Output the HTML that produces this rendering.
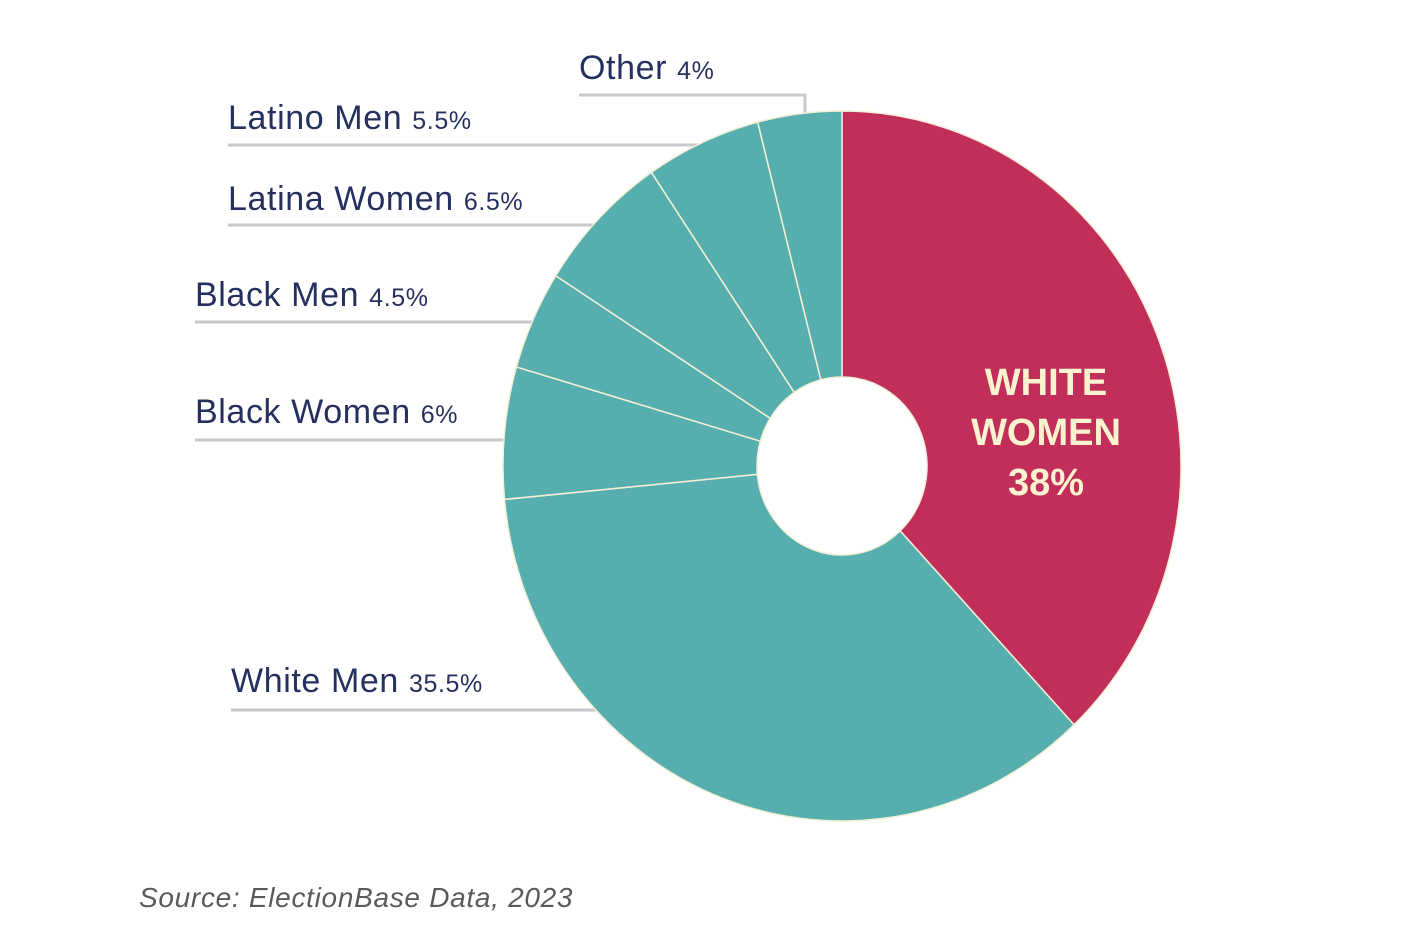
<!DOCTYPE html>
<html><head><meta charset="utf-8"><style>
html,body{margin:0;padding:0;background:#fff;width:1410px;height:945px;overflow:hidden}
svg{display:block}
.lbl{font-family:"Liberation Sans",sans-serif;fill:#25305e;letter-spacing:0.6px}
</style></head><body>
<svg id="chart" width="1410" height="945">
<g id="lines"></g><g id="slices"></g><g id="labels"></g>
<text x="139" y="907" font-family="Liberation Sans, sans-serif" font-style="italic" font-size="28" letter-spacing="0.7" fill="#5a5a5a">Source: ElectionBase Data, 2023</text>
</svg>
<script>
const categories=["White Women","White Men","Black Women","Black Men","Latina Women","Latino Men","Other"];
const values=[38,35.5,6,4.5,6.5,5.5,4];
const valueLabels=["38%","35.5%","6%","4.5%","6.5%","5.5%","4%"];
const colors=["#c22e5a","#56afae","#56afae","#56afae","#56afae","#56afae","#56afae"];
// layout (not data)
const cx=842,cy=466,rx=339,ry=355,irx=85,iry=89;
const labelPos={"White Men":[231,692,710,600],"Black Women":[195,423,440,510],"Black Men":[195,306,322,540],"Latina Women":[228,210,225,600],"Latino Men":[228,129,145,720]};
const NS="http://www.w3.org/2000/svg";
function mk(t,a,p){const e=document.createElementNS(NS,t);for(const k in a)e.setAttribute(k,a[k]);p.appendChild(e);return e;}
function pt(f,r1,r2){const a=f*2*Math.PI;return [cx+r1*Math.sin(a),cy-r2*Math.cos(a)];}
const total=values.reduce((a,b)=>a+b,0);
const sg=document.getElementById('slices'),lg=document.getElementById('lines'),tg=document.getElementById('labels');
let acc=0;
values.forEach((v,i)=>{
  const f0=acc/total,f1=(acc+v)/total;acc+=v;
  const [x0,y0]=pt(f0,rx,ry),[x1,y1]=pt(f1,rx,ry),[x2,y2]=pt(f1,irx,iry),[x3,y3]=pt(f0,irx,iry);
  const lg1=(f1-f0)>0.5?1:0;
  const d=`M${x0},${y0}A${rx},${ry} 0 ${lg1} 1 ${x1},${y1}L${x2},${y2}A${irx},${iry} 0 ${lg1} 0 ${x3},${y3}Z`;
  const p=mk('path',{d:d,fill:colors[i],stroke:"#f4efd6","stroke-width":1.5},sg);
  
  
  const c=categories[i];
  if(labelPos[c]){
    const [lx,ty,ly,le]=labelPos[c];
    const ln=mk('line',{x1:lx,y1:ly,x2:le,y2:ly,stroke:"#c8c9cb","stroke-width":3},lg);
    
    
    const t=mk('text',{x:lx,y:ty,"font-size":34,class:"lbl"},tg);
    
    
    t.textContent=c+" ";
    const s=mk('tspan',{"font-size":25},t);s.textContent=valueLabels[i];
  } else if(c==="Other"){
    const pl=mk('polyline',{points:"579,95 805,95 805,114",fill:"none",stroke:"#c8c9cb","stroke-width":3},lg);
    
    
    const t=mk('text',{x:579,y:79,"font-size":34,class:"lbl"},tg);
    
    
    t.textContent="Other ";
    const s=mk('tspan',{"font-size":25},t);s.textContent=valueLabels[i];
  } else {
    const lines=["WHITE","WOMEN",valueLabels[i]];
    lines.forEach((w,k)=>{
      const t=mk('text',{x:1046,y:395+k*50,"font-size":38,"font-weight":"bold","text-anchor":"middle",fill:"#fbf2cf","font-family":"Liberation Sans, sans-serif"},tg);
      
      
      t.textContent=w;
    });
  }
});
</script>
</body></html>
